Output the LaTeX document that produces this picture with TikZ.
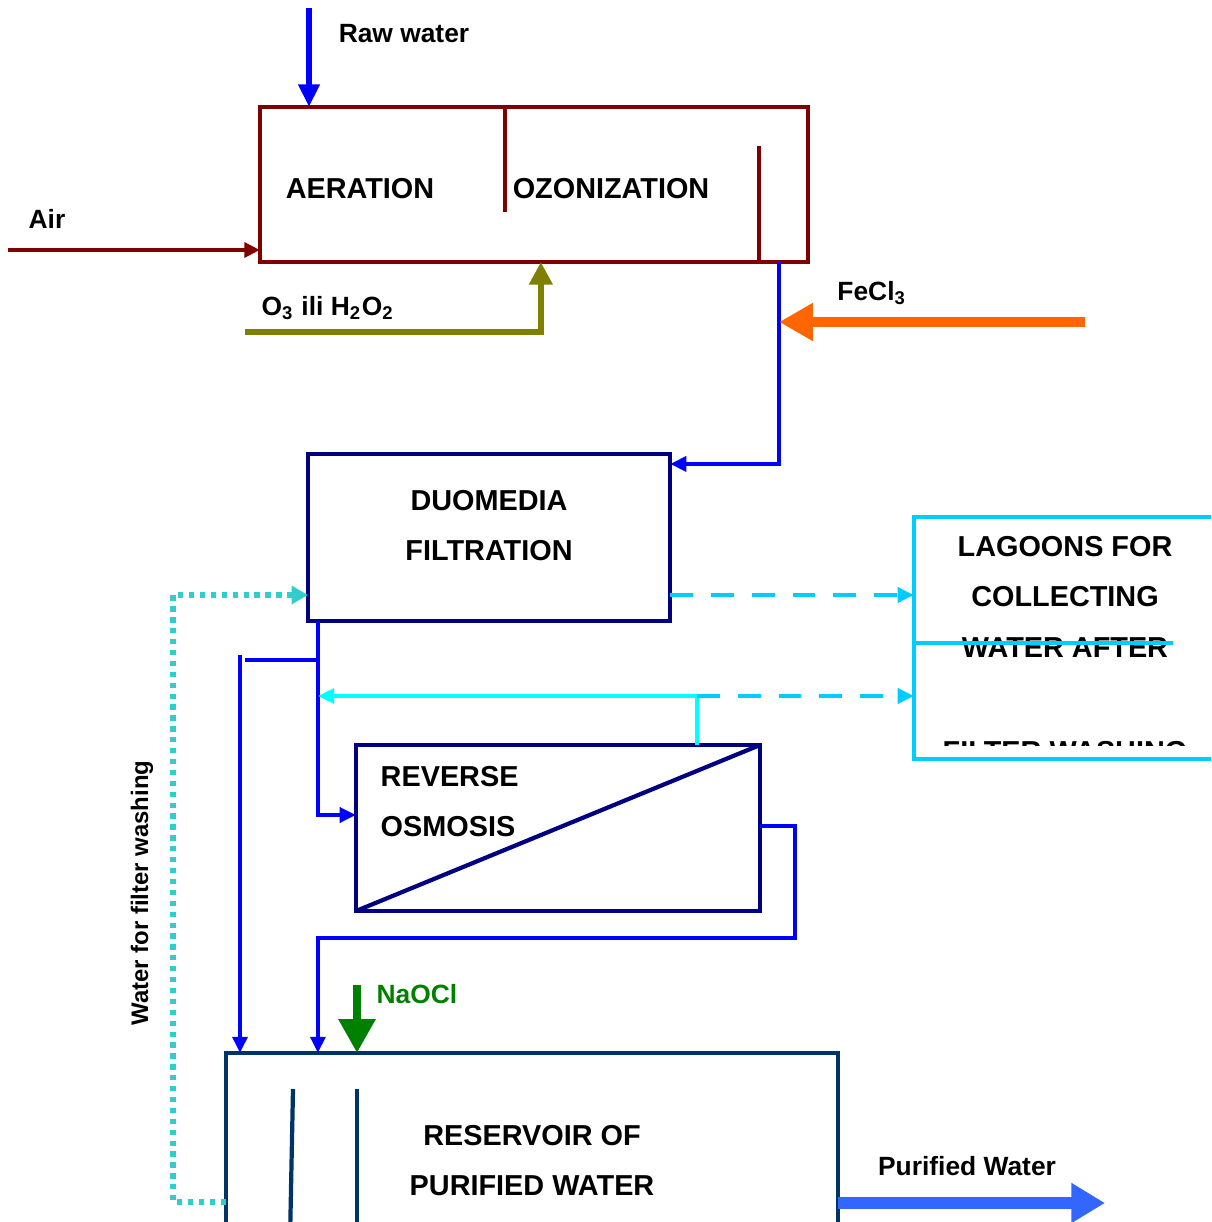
\documentclass[tikz,border=0pt]{standalone}
\usepackage{fontspec}
\setmainfont{Liberation Sans}
\usetikzlibrary{arrows.meta,calc}

\definecolor{brick}{HTML}{800000}
\definecolor{oliv}{HTML}{808000}
\definecolor{navyb}{HTML}{000080}
\definecolor{flowblue}{HTML}{0000FF}
\definecolor{fecl}{HTML}{FF6600}
\definecolor{lagblue}{HTML}{00CCFF}
\definecolor{rinse}{HTML}{00FFFF}
\definecolor{washc}{HTML}{33CCCC}
\definecolor{resv}{HTML}{003366}
\definecolor{prod}{HTML}{3366FF}
\definecolor{naocl}{HTML}{008000}

\tikzset{
  box/.style={draw=#1, line width=1.2pt, inner sep=0pt, outer sep=0pt},
  boxtxt/.style={font=\fontsize{8.2}{9}\selectfont\bfseries},
  lbl/.style={font=\fontsize{7.5}{8}\selectfont\bfseries},
  flow/.style={draw=flowblue, line width=1.15pt, -{Triangle[length=4.6pt,width=4.2pt]}},
  lagflow/.style={draw=lagblue, line width=1.15pt, dash pattern=on 6.5pt off 5.1pt,
    -{Triangle[length=4.6pt,width=4.2pt]}},
}

\begin{document}
\begin{tikzpicture}[x=0.01cm,y=-0.01cm]
\useasboundingbox (0,0) rectangle (1211,1222);
\clip (0,0) rectangle (1211,1222);

% boxes
\node[box=brick, minimum width=5.48cm, minimum height=1.55cm] (aer) at (534,184.5) {};
\node[box=navyb, minimum width=3.62cm, minimum height=1.67cm] (duo) at (489,537.5) {};
\node[box=navyb, minimum width=4.04cm, minimum height=1.66cm] (ro) at (558,828) {};
\node[box=lagblue, minimum width=3.46cm, minimum height=2.42cm] (lag) at (1087,638) {};
\node[box=resv, minimum width=6.12cm, minimum height=2.07cm] (res) at (532,1156.5) {};

% inner walls
\draw[brick, line width=1.2pt] (505,107) -- (505,212);
\draw[brick, line width=1.2pt] (759,146) -- (759,262);
\draw[navyb, line width=1.2pt] (ro.south west) -- (ro.north east);
\draw[resv, line width=1.2pt] (293,1089) -- (290,1240);
\draw[resv, line width=1.2pt] (357,1089) -- (357,1240);

% box texts
\node[boxtxt] (aertxt) at (360,189) {AERATION};
\node[boxtxt] (ozotxt) at (611,189) {OZONIZATION};
\node[boxtxt] (duotxt1) at (489,501) {DUOMEDIA};
\node[boxtxt] (duotxt2) at (489,551) {FILTRATION};
\node[boxtxt, anchor=west, inner sep=0pt] (rotxt1) at (380,777) {REVERSE};
\node[boxtxt, anchor=west, inner sep=0pt] (rotxt2) at (380,827) {OSMOSIS};
\node[boxtxt] (restxt1) at (532,1136) {RESERVOIR OF};
\node[boxtxt] (restxt2) at (532,1186) {PURIFIED WATER};
\node[boxtxt] (lagtxt1) at (1065,547) {LAGOONS FOR};
\node[boxtxt] (lagtxt2) at (1065,597) {COLLECTING};
\node[boxtxt] (lagtxt3) at (1065,648) {WATER AFTER};
\begin{scope}
  \clip (914,517) rectangle (1211,745);
  \node[boxtxt] (lagtxt4) at (1065,752) {FILTER WASHING};
\end{scope}
\draw[lagblue, line width=1.2pt] (lag.west |- 0,643) -- (1173,643);

% inputs
\coordinate (rw) at (309,8);
\coordinate (air) at (8,250);
\coordinate (ox) at (245,332);
\coordinate (fe) at (1085,322);
\coordinate (na) at (357,985);
\coordinate (ozout) at ($(aer.south east)+(-29,0)$);
\coordinate (fdown) at ($(duo.south west)+(10,0)$);
\coordinate (tap) at (697,696);
\coordinate (bypass) at (240,655);

\draw[flowblue, line width=1.7pt, -{Triangle[length=6.4pt,width=5.8pt]}] (rw) -- (rw |- aer.north);
\node[lbl] (rwlbl) at (404,34) {Raw water};
\draw[brick, line width=1.15pt, -{Triangle[length=4.4pt,width=4.2pt]}] (air) -- (air -| aer.west);
\node[lbl] (airlbl) at (47,219) {Air};
\draw[oliv, line width=1.7pt, -{Triangle[length=6.4pt,width=6.4pt]}] (ox) -| ($(aer.south west)+(281,0)$);
\node[lbl] (oxlbl) at (328,308) {O\textsubscript{3} ili H\textsubscript{2}O\textsubscript{2}};

% filtration line
\draw[flow] (ozout) |- ($(duo.north east)+(0,10)$);
\draw[fecl, line width=2.8pt, -{Triangle[length=9.6pt,width=10.2pt]}] (fe) -- (fe -| ozout);
\node[lbl] (felbl) at (872,293) {FeCl\textsubscript{3}};

\draw[lagflow] (duo.east |- 0,595) -- (lag.west |- 0,595);
\draw[flow] (fdown) |- ($(ro.west)+(0,-13)$);
\draw[flowblue, line width=1.15pt] (fdown |- 0,660) -- (245,660);
\draw[flow] (bypass) -- (bypass |- res.north);
\draw[rinse, line width=1.15pt, -{Triangle[length=4.6pt,width=4.2pt]}] (ro.north -| tap) -- (tap) -- (tap -| fdown);
\draw[lagflow] (tap) -- (lag.west |- tap);

% reverse osmosis outlet
\draw[flow] ($(ro.east)+(0,-2)$) -- ++(35,0) |- (fdown |- 0,938) -- (fdown |- res.north);
\draw[naocl, line width=2.3pt, -{Triangle[length=9.6pt,width=10pt]}] (na) -- (na |- res.north);
\node[lbl, text=naocl] (nalbl) at (417,994) {NaOCl};

% outlet and washing
\draw[prod, line width=3.4pt, -{Triangle[length=9.6pt,width=10.8pt]}] (res.east |- 0,1203) -- (1105,1203);
\node[lbl] (prodlbl) at (967,1166) {Purified Water};
\draw[washc, line width=1.5pt, dash pattern=on 1.5pt off 1.6pt, -{Triangle[length=4.6pt,width=5pt]}]
  (res.west |- 0,1202) -- (173,1202) |- (duo.west |- 0,595);
\node[lbl, rotate=90, font=\fontsize{6.8}{8}\selectfont\bfseries] (washlbl) at (142,893) {Water for filter washing};
\end{tikzpicture}
\end{document}
